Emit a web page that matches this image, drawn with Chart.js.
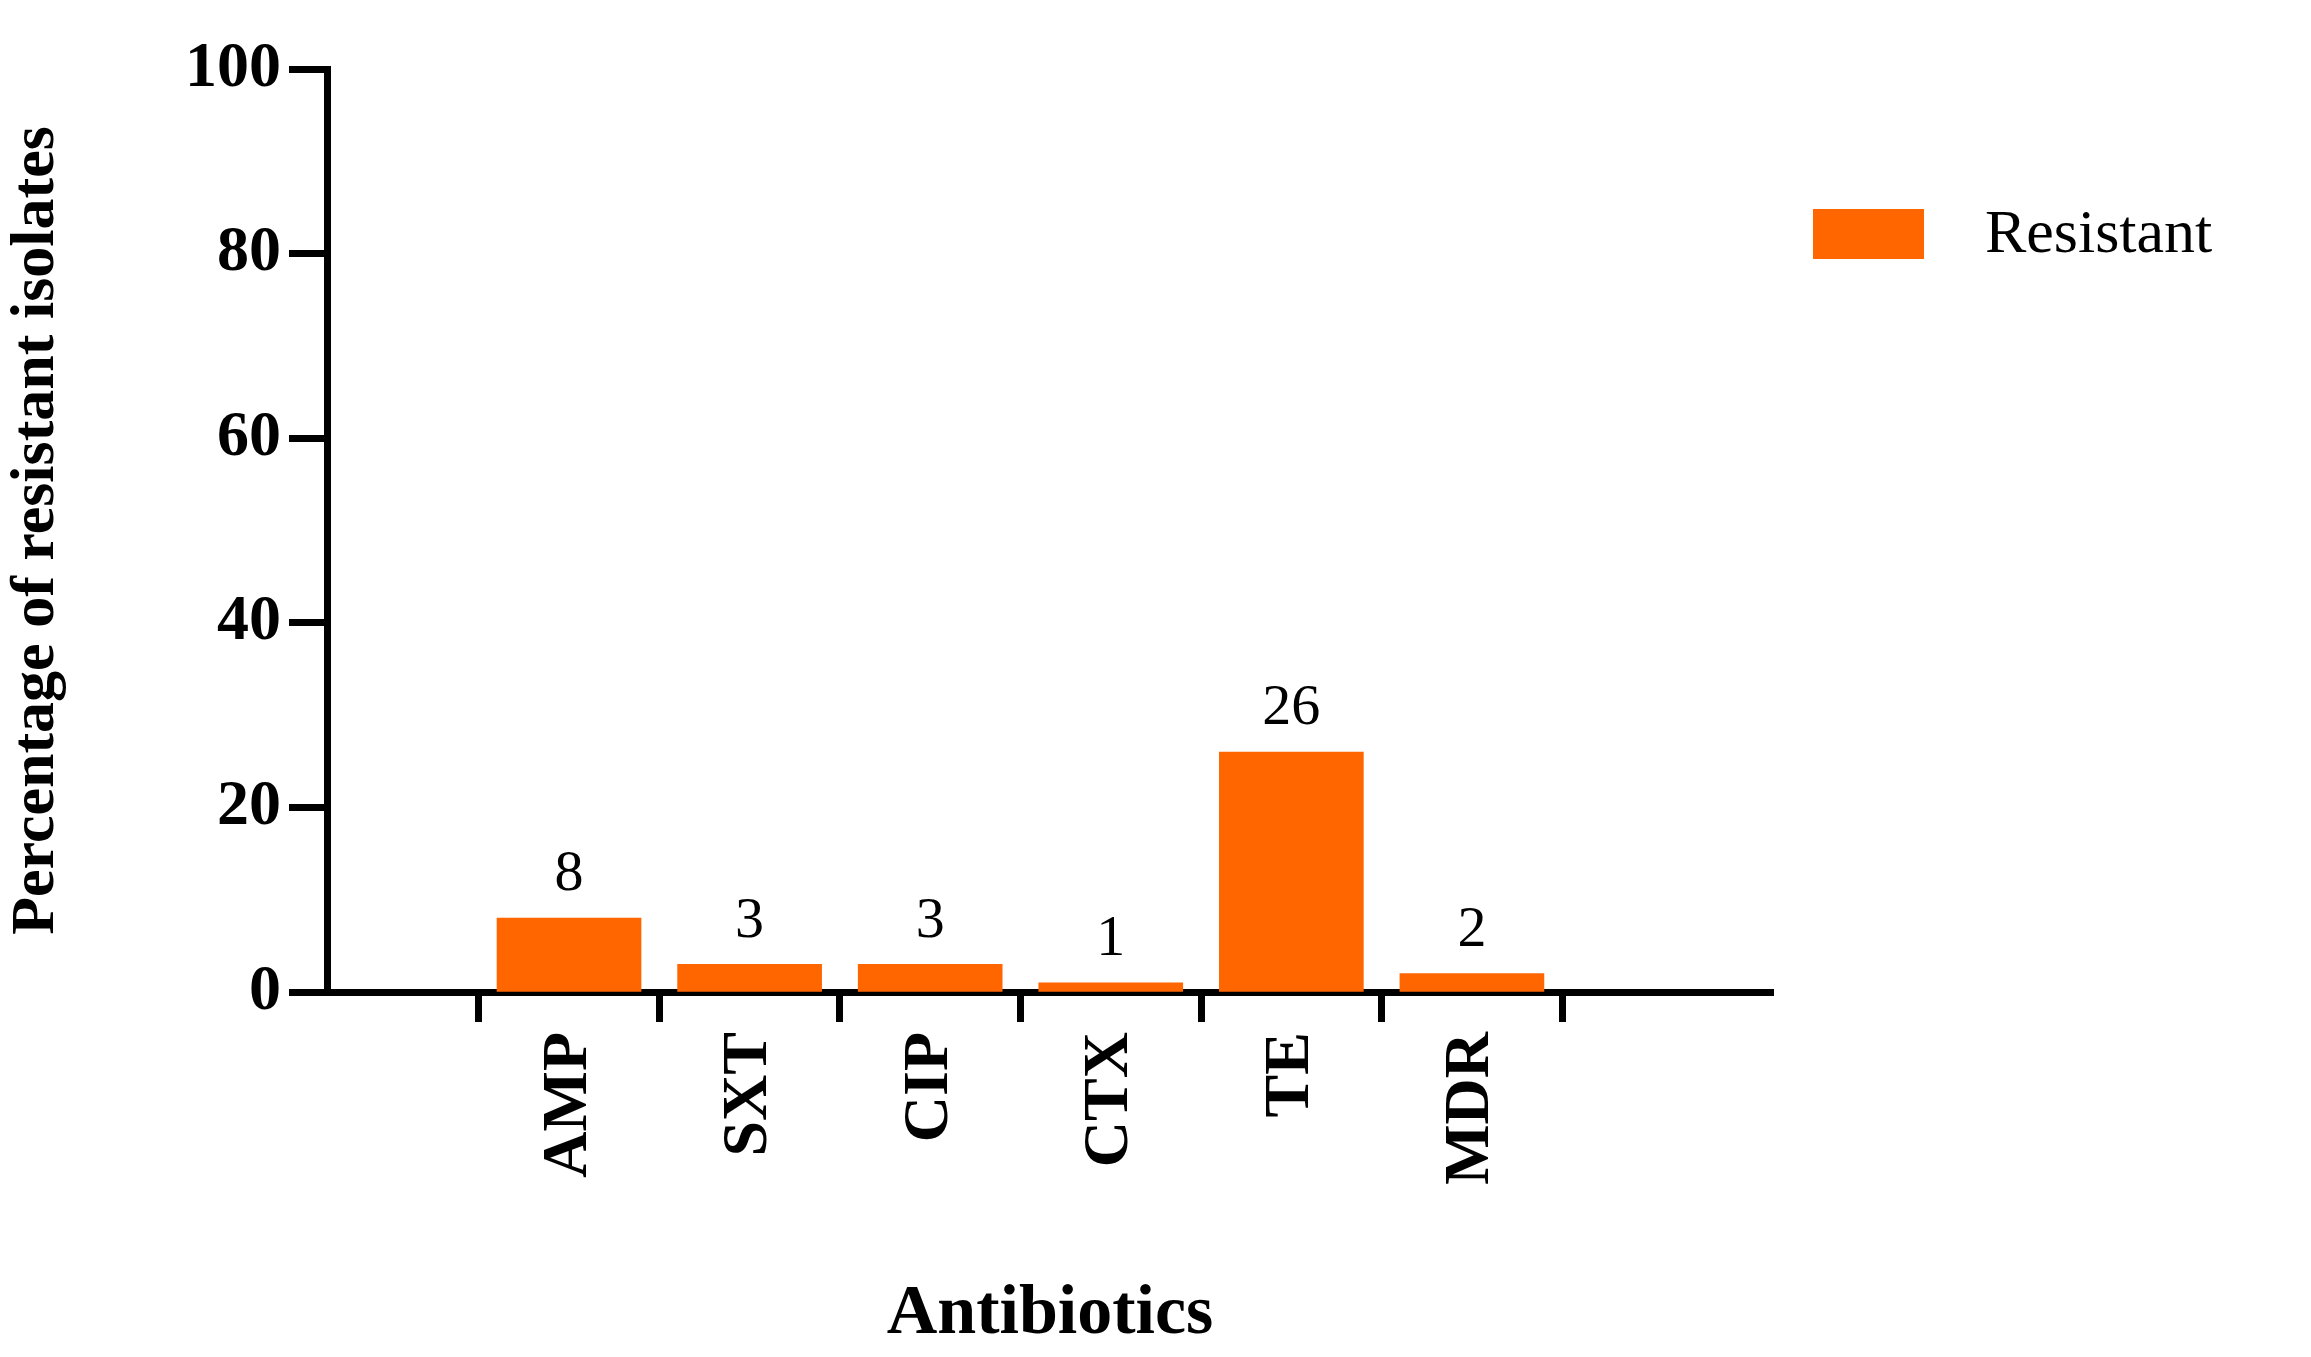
<!DOCTYPE html>
<html>
<head>
<meta charset="utf-8">
<script src="https://cdn.jsdelivr.net/npm/chart.js@4/dist/chart.umd.min.js"></script>
<style>
  html, body { margin: 0; padding: 0; background: #fff; }
  #wrap { width: 2311px; height: 1357px; }
</style>
</head>
<body>
<div id="wrap"><canvas id="chart" width="2311" height="1357"></canvas></div>
<script>
const categories = ['AMP', 'SXT', 'CIP', 'CTX', 'TE', 'MDR'];
const resistant = [8, 3, 3, 1, 26, 2];
const yTicks = [0, 20, 40, 60, 80, 100];

const serif = '"Liberation Serif", "Times New Roman", serif';
const orange = '#FF6600';

// value labels above bars
const valueLabels = {
  id: 'valueLabels',
  afterDatasetsDraw(chart) {
    const ctx = chart.ctx;
    const meta = chart.getDatasetMeta(0);
    ctx.save();
    ctx.font = '58px ' + serif;
    ctx.fillStyle = '#000';
    ctx.textAlign = 'center';
    ctx.textBaseline = 'bottom';
    meta.data.forEach((bar, i) => {
      ctx.fillText(String(resistant[i]), bar.x, bar.y - 14);
    });
    ctx.restore();
  }
};

// legend box on the right
const sideLegend = {
  id: 'sideLegend',
  afterDraw(chart) {
    const ctx = chart.ctx;
    ctx.save();
    ctx.fillStyle = orange;
    ctx.fillRect(1813, 209, 111, 50);
    ctx.font = '62px ' + serif;
    ctx.fillStyle = '#000';
    ctx.textBaseline = 'middle';
    ctx.fillText('Resistant', 1985, 236);
    ctx.restore();
  }
};

new Chart(document.getElementById('chart'), {
  type: 'bar',
  data: {
    datasets: [{
      label: 'Resistant',
      data: resistant.map((v, i) => ({ x: i + 1, y: v })),
      backgroundColor: orange,
      barThickness: 144
    }]
  },
  options: {
    responsive: false,
    animation: false,
    layout: { padding: { top: 69, right: 538, left: 0, bottom: 0 } },
    plugins: { legend: { display: false }, tooltip: { enabled: false } },
    scales: {
      x: {
        type: 'linear',
        min: 0.327,
        max: 7,
        afterFit(scale) { scale.height = 365; },
        afterBuildTicks(scale) {
          scale.ticks = categories.map((c, i) => ({ value: i + 1 }));
        },
        ticks: {
          callback: (v) => categories[v - 1] || '',
          minRotation: 90,
          maxRotation: 90,
          color: '#000',
          padding: 10,
          font: { family: serif, size: 64, weight: 'bold' }
        },
        grid: { drawOnChartArea: false, drawTicks: true, tickLength: 30, tickColor: '#000', tickWidth: 7 },
        border: { color: '#000', width: 7 },
        title: {
          display: true,
          text: 'Antibiotics',
          color: '#000',
          padding: { top: 0, bottom: 0 },
          font: { family: serif, size: 70, weight: 'bold' }
        }
      },
      y: {
        min: 0,
        max: 100,
        afterFit(scale) { scale.width = 327; },
        afterBuildTicks(scale) {
          scale.ticks = yTicks.map(v => ({ value: v }));
        },
        ticks: {
          color: '#000',
          padding: 8,
          font: { family: serif, size: 64, weight: 'bold' }
        },
        grid: { drawOnChartArea: false, drawTicks: true, tickLength: 38, tickColor: '#000', tickWidth: 7 },
        border: { color: '#000', width: 7 },
        title: {
          display: true,
          text: 'Percentage of resistant isolates',
          color: '#000',
          padding: { top: 0, bottom: 0 },
          font: { family: serif, size: 62, weight: 'bold' }
        }
      }
    }
  },
  plugins: [valueLabels, sideLegend]
});
</script>
</body>
</html>
